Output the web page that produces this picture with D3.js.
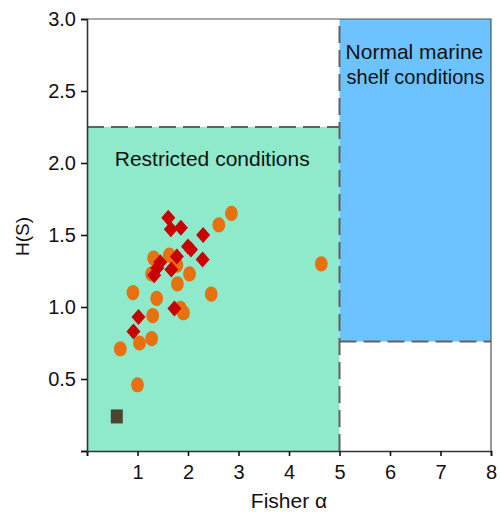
<!DOCTYPE html>
<html lang="en">
<head>
<meta charset="utf-8">
<script src="https://cdn.jsdelivr.net/npm/d3@7"></script>
<style>
  body { margin: 0; background: #fff; }
  text { font-family: "Liberation Sans", Arial, Helvetica, sans-serif; fill: #111; }
</style>
</head>
<body>
<script>
// orange circles
var orangeX = [2.86, 2.61, 1.32, 1.63, 1.78, 1.28, 2.03, 1.79, 0.91, 1.38, 2.46, 1.91, 1.85, 1.30, 1.04, 1.28, 0.66, 1.00, 4.64];
var orangeY = [1.65, 1.57, 1.34, 1.36, 1.29, 1.23, 1.23, 1.16, 1.10, 1.06, 1.09, 0.96, 0.99, 0.94, 0.75, 0.78, 0.71, 0.46, 1.30];
// red diamonds
var redX = [1.61, 1.66, 1.86, 2.30, 2.00, 2.06, 1.78, 2.29, 1.45, 1.39, 1.33, 1.67, 1.73, 1.02, 0.92];
var redY = [1.62, 1.54, 1.55, 1.50, 1.42, 1.40, 1.35, 1.33, 1.31, 1.27, 1.22, 1.26, 0.99, 0.93, 0.83];
// dark square
var squareX = [0.59];
var squareY = [0.24];

// field boundaries
var restricted = {x0: 0, x1: 5, y0: 0, y1: 2.25};
var normal = {x0: 5, x1: 8, y0: 0.76, y1: 3.0};

var xTicks = [0, 1, 2, 3, 4, 5, 6, 7, 8];
var yTicks = [0, 0.5, 1.0, 1.5, 2.0, 2.5, 3.0];

var w = 500, h = 512;
var margin = {top: 19, left: 87, right: 9, bottom: 61};

var svg = d3.select("body").append("svg")
  .attr("width", w)
  .attr("height", h);

var x = d3.scaleLinear().domain([0, 8]).range([margin.left, w - margin.right]);
var y = d3.scaleLinear().domain([0, 3]).range([h - margin.bottom, margin.top]);

// coloured fields
svg.append("rect")
  .attr("x", x(restricted.x0)).attr("y", y(restricted.y1))
  .attr("width", x(restricted.x1) - x(restricted.x0))
  .attr("height", y(restricted.y0) - y(restricted.y1))
  .attr("fill", "#8eeacb");
svg.append("rect")
  .attr("x", x(normal.x0)).attr("y", y(normal.y1))
  .attr("width", x(normal.x1) - x(normal.x0))
  .attr("height", y(normal.y0) - y(normal.y1))
  .attr("fill", "#6dc3ff");

// frame top and right
svg.append("path")
  .attr("d", "M" + x(0) + "," + y(3) + "H" + x(8) + "V" + y(0))
  .attr("fill", "none").attr("stroke", "#555").attr("stroke-width", 1.2);

// dashed boundaries
var dashed = [
  [restricted.x0, restricted.y1, restricted.x1, restricted.y1],
  [5, 0, 5, 3],
  [normal.x0, normal.y0, normal.x1, normal.y0]
];
svg.selectAll(".dash").data(dashed).enter().append("line")
  .attr("x1", function(d) { return x(d[0]); })
  .attr("y1", function(d) { return y(d[1]); })
  .attr("x2", function(d) { return x(d[2]); })
  .attr("y2", function(d) { return y(d[3]); })
  .attr("stroke", "#616161")
  .attr("stroke-width", 2)
  .attr("stroke-dasharray", "17,7");

// field labels
svg.append("text")
  .attr("x", x(2.48)).attr("y", y(1.98))
  .attr("text-anchor", "middle")
  .style("font-size", "21px")
  .text("Restricted conditions");
svg.append("text")
  .attr("x", x(5.12)).attr("y", y(2.72))
  .style("font-size", "21px")
  .text("Normal marine");
svg.append("text")
  .attr("x", x(5.14)).attr("y", y(2.55))
  .style("font-size", "20px")
  .text("shelf conditions");

// axes
var xaxis = d3.axisBottom(x).tickValues(xTicks).tickSize(5).tickPadding(9)
  .tickFormat(function(d) { return d === 0 ? "" : d; });
var yaxis = d3.axisLeft(y).tickValues(yTicks).tickSize(6).tickPadding(5)
  .tickFormat(function(d) { return d === 0 ? "" : d3.format(".1f")(d); });

var gx = svg.append("g")
  .attr("transform", "translate(0," + y(0) + ")")
  .call(xaxis);
var gy = svg.append("g")
  .attr("transform", "translate(" + x(0) + ",0)")
  .call(yaxis);
[gx, gy].forEach(function(g) {
  g.select(".domain").attr("stroke", "#333").attr("stroke-width", 1.6);
  g.selectAll(".tick line").attr("stroke", "#111").attr("stroke-width", 1.6);
  g.selectAll(".tick text")
    .style("font-family", "'Liberation Sans', Arial, sans-serif")
    .style("font-size", "20px").attr("fill", "#111");
});

// axis titles
svg.append("text")
  .attr("x", (x(0) + x(8)) / 2).attr("y", 508)
  .attr("text-anchor", "middle")
  .style("font-size", "21px")
  .text("Fisher \u03b1");
svg.append("text")
  .attr("transform", "translate(29," + y(1.49) + ") rotate(-90)")
  .attr("text-anchor", "middle")
  .style("font-size", "19px")
  .text("H(S)");

// points
svg.selectAll(".orange").data(orangeX).enter().append("ellipse")
  .attr("cx", function(d) { return x(d); })
  .attr("cy", function(d, i) { return y(orangeY[i]); })
  .attr("rx", 6.4).attr("ry", 7.6)
  .attr("fill", "#e8700f");

svg.selectAll(".red").data(redX).enter().append("path")
  .attr("d", "M0,-8L7,0L0,8L-7,0Z")
  .attr("transform", function(d, i) { return "translate(" + x(d) + "," + y(redY[i]) + ")"; })
  .attr("fill", "#c80000");

svg.selectAll(".sq").data(squareX).enter().append("rect")
  .attr("x", function(d) { return x(d) - 6; })
  .attr("y", function(d, i) { return y(squareY[i]) - 7; })
  .attr("width", 12).attr("height", 14)
  .attr("fill", "#4b4530");
</script>
</body>
</html>
